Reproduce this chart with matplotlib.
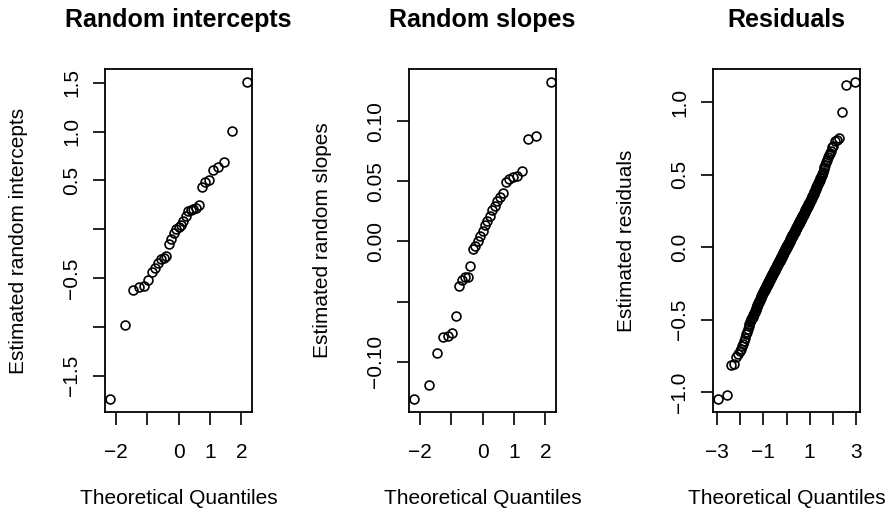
import statistics
import matplotlib
matplotlib.use("Agg")
import matplotlib.pyplot as plt

# Estimated random intercepts (one per group)
intercepts = [
    -1.74, -0.976, -0.624, -0.589, -0.576, -0.524, -0.439, -0.394, -0.349, -0.301,
    -0.29, -0.27, -0.154, -0.103, -0.034, 0.0, 0.02, 0.041, 0.082, 0.137,
    0.185, 0.195, 0.203, 0.216, 0.247, 0.428, 0.483, 0.504, 0.606, 0.634,
    0.69, 1.005, 1.51,
]

# Estimated random slopes (one per group)
slopes = [
    -0.1313, -0.1194, -0.0925, -0.0792, -0.0783, -0.0763, -0.0617, -0.0375, -0.0319, -0.0297,
    -0.0292, -0.0208, -0.0063, -0.0042, 0.0, 0.0042, 0.0083, 0.0139, 0.0167, 0.0208,
    0.0264, 0.0298, 0.0333, 0.037, 0.0403, 0.0498, 0.052, 0.0537, 0.0542, 0.0589,
    0.0853, 0.0875, 0.1328,
]

# Estimated observation-level residuals
residuals = [
    -1.05, -1.02, -0.815, -0.805, -0.76, -0.74, -0.72, -0.705, -0.685, -0.67,
    -0.645, -0.625, -0.60, -0.585, -0.565, -0.545, -0.53, -0.515, -0.505, -0.495,
    -0.488, -0.48, -0.472, -0.463, -0.455, -0.447, -0.44, -0.431, -0.423, -0.415,
    -0.407, -0.401, -0.394, -0.388, -0.381, -0.376, -0.369, -0.362, -0.356, -0.349,
    -0.343, -0.338, -0.334, -0.329, -0.324, -0.319, -0.315, -0.311, -0.306, -0.302,
    -0.298, -0.294, -0.290, -0.286, -0.282, -0.278, -0.274, -0.270, -0.267, -0.263,
    -0.259, -0.256, -0.252, -0.249, -0.245, -0.241, -0.238, -0.234, -0.231, -0.227,
    -0.224, -0.221, -0.218, -0.214, -0.211, -0.208, -0.205, -0.201, -0.198, -0.195,
    -0.192, -0.189, -0.186, -0.182, -0.179, -0.176, -0.173, -0.170, -0.167, -0.164,
    -0.161, -0.158, -0.155, -0.152, -0.149, -0.146, -0.143, -0.141, -0.138, -0.135,
    -0.132, -0.129, -0.126, -0.124, -0.121, -0.118, -0.115, -0.112, -0.110, -0.107,
    -0.104, -0.101, -0.099, -0.096, -0.093, -0.091, -0.088, -0.085, -0.083, -0.080,
    -0.077, -0.075, -0.072, -0.069, -0.067, -0.064, -0.061, -0.059, -0.056, -0.053,
    -0.051, -0.048, -0.045, -0.043, -0.040, -0.037, -0.035, -0.032, -0.030, -0.027,
    -0.024, -0.022, -0.019, -0.016, -0.014, -0.011, -0.009, -0.006, -0.003, -0.001,
    0.001, 0.003, 0.006, 0.009, 0.011, 0.014, 0.016, 0.019, 0.022, 0.024,
    0.027, 0.030, 0.032, 0.035, 0.037, 0.040, 0.043, 0.045, 0.048, 0.051,
    0.053, 0.056, 0.059, 0.061, 0.064, 0.067, 0.069, 0.072, 0.075, 0.077,
    0.080, 0.083, 0.085, 0.088, 0.091, 0.093, 0.096, 0.099, 0.101, 0.104,
    0.107, 0.110, 0.112, 0.115, 0.118, 0.121, 0.124, 0.126, 0.129, 0.132,
    0.135, 0.138, 0.141, 0.143, 0.146, 0.149, 0.152, 0.155, 0.158, 0.161,
    0.164, 0.167, 0.170, 0.173, 0.176, 0.179, 0.182, 0.186, 0.189, 0.192,
    0.195, 0.198, 0.201, 0.205, 0.208, 0.211, 0.214, 0.218, 0.221, 0.224,
    0.227, 0.231, 0.234, 0.238, 0.241, 0.245, 0.249, 0.252, 0.256, 0.259,
    0.263, 0.267, 0.270, 0.274, 0.278, 0.282, 0.286, 0.290, 0.294, 0.298,
    0.302, 0.306, 0.311, 0.315, 0.319, 0.324, 0.329, 0.334, 0.338, 0.343,
    0.349, 0.356, 0.362, 0.369, 0.376, 0.381, 0.388, 0.394, 0.401, 0.407,
    0.413, 0.420, 0.427, 0.434, 0.441, 0.448, 0.456, 0.465, 0.474, 0.484,
    0.495, 0.505, 0.52, 0.535, 0.55, 0.565, 0.585, 0.60, 0.62, 0.635,
    0.65, 0.665, 0.69, 0.70, 0.73, 0.74, 0.75, 0.933, 1.117, 1.14,
]

titles = ["Random intercepts", "Random slopes", "Residuals"]
ylabels = ["Estimated random intercepts", "Estimated random slopes", "Estimated residuals"]
xlabel = "Theoretical Quantiles"

x_ticks_groups = [-2, -1, 0, 1, 2]
x_ticklabels_groups = ["\u22122", "", "0", "1", "2"]
x_ticks_resid = [-3, -2, -1, 0, 1, 2, 3]
x_ticklabels_resid = ["\u22123", "", "\u22121", "", "1", "", "3"]

y_ticks_int = [-1.5, -1.0, -0.5, 0.0, 0.5, 1.0, 1.5]
y_ticklabels_int = ["\u22121.5", "", "\u22120.5", "", "0.5", "1.0", "1.5"]
y_ticks_slope = [-0.10, -0.05, 0.0, 0.05, 0.10]
y_ticklabels_slope = ["\u22120.10", "", "0.00", "0.05", "0.10"]
y_ticks_res = [-1.0, -0.5, 0.0, 0.5, 1.0]
y_ticklabels_res = ["\u22121.0", "\u22120.5", "0.0", "0.5", "1.0"]


def qqnorm(values):
    """Normal Q-Q coordinates using the ppoints() convention."""
    n = len(values)
    a = 3 / 8 if n <= 10 else 0.5
    nd = statistics.NormalDist()
    theo = [nd.inv_cdf((i + 1 - a) / (n + 1 - 2 * a)) for i in range(n)]
    return theo, sorted(values)


plt.rcParams["font.family"] = ["Liberation Sans", "DejaVu Sans"]

W, H = 892, 515
fig = plt.figure(figsize=(W / 100, H / 100), dpi=100)

lefts = [105, 409, 713]
box_w, box_top, box_bot = 147, 69, 412

panels = [
    (intercepts, x_ticks_groups, x_ticklabels_groups, y_ticks_int, y_ticklabels_int),
    (slopes, x_ticks_groups, x_ticklabels_groups, y_ticks_slope, y_ticklabels_slope),
    (residuals, x_ticks_resid, x_ticklabels_resid, y_ticks_res, y_ticklabels_res),
]

for k, (vals, xt, xtl, yt, ytl) in enumerate(panels):
    ax = fig.add_axes([lefts[k] / W, 1 - box_bot / H, box_w / W, (box_bot - box_top) / H])
    theo, samp = qqnorm(vals)
    ax.plot(theo, samp, linestyle="none", marker="o", markersize=6.4,
            markerfacecolor="none", markeredgecolor="black", markeredgewidth=1.2)
    ax.margins(x=0.04, y=0.04)
    ax.set_xticks(xt, xtl)
    ax.set_yticks(yt, ytl, rotation=90, va="center")
    ax.tick_params(axis="both", length=9, width=1.2, labelsize=15, color="black")
    ax.tick_params(axis="x", pad=13)
    ax.tick_params(axis="y", pad=8)
    for s in ax.spines.values():
        s.set_linewidth(1.3)
    ax.set_title(titles[k], fontsize=18, fontweight="bold", pad=30)
    ax.set_xlabel(xlabel, fontsize=15, labelpad=20)
    ax.set_ylabel(ylabels[k], fontsize=15, labelpad=25)

fig.savefig("out.png", dpi=100)
